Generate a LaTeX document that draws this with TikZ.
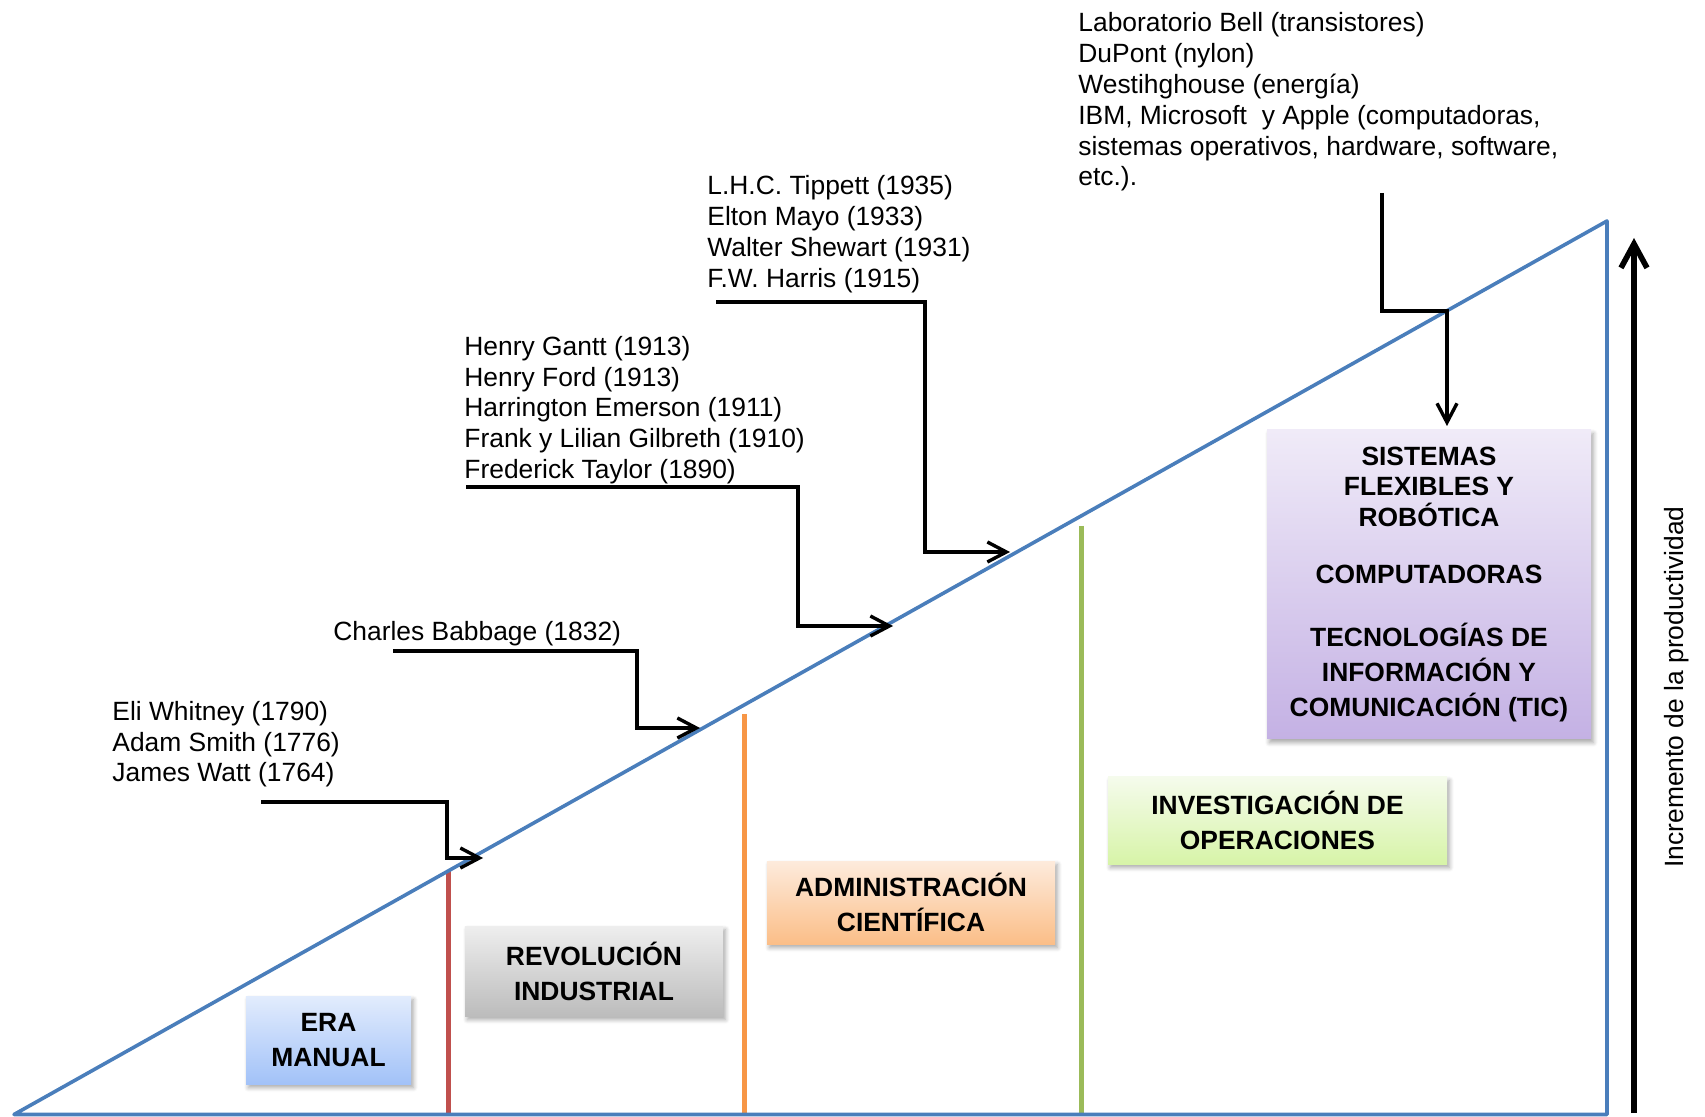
\documentclass[tikz,border=0pt]{standalone}
\usepackage{fontspec}
\setmainfont{Liberation Sans}
\usetikzlibrary{arrows.meta,shadows.blur}

\definecolor{axisblue}{HTML}{4A7EBB}
\definecolor{divred}{HTML}{C0504D}
\definecolor{divorange}{HTML}{F79646}
\definecolor{divgreen}{HTML}{9BBB59}
\definecolor{eraT}{HTML}{E2ECFD}
\definecolor{eraB}{HTML}{A2C2F8}
\definecolor{revT}{HTML}{EEEEEE}
\definecolor{revB}{HTML}{BCBCBC}
\definecolor{admT}{HTML}{FDEBDC}
\definecolor{admB}{HTML}{FBBE88}
\definecolor{invT}{HTML}{F5FBEC}
\definecolor{invB}{HTML}{D7F4A8}
\definecolor{sisT}{HTML}{F0EBF8}
\definecolor{sisB}{HTML}{C4B1E4}

\begin{document}
\begin{tikzpicture}[x=0.5pt,y=-0.5pt,
  every node/.style={inner sep=0pt},
  names/.style={font=\fontsize{13.2}{15.4}\selectfont, align=left, anchor=north west},
  stage/.style={rectangle, align=center,
    font=\fontsize{13.2}{17.5}\selectfont\bfseries,
    blur shadow={shadow xshift=1.2pt, shadow yshift=-1.8pt,
      shadow blur radius=2.2pt, shadow opacity=35, shadow blur steps=6}},
  tightstage/.style={stage, font=\fontsize{13.2}{15.25}\selectfont\bfseries},
  conn/.style={line width=1.7pt, line join=miter,
    -{Straight Barb[length=9.5pt,width=10pt]}},
  stem/.style={line width=2.5pt},
  axis/.style={draw=axisblue, line width=1.8pt, line join=round},
]
\useasboundingbox (0,0) rectangle (1705,1117);

% stage dividers
\draw[stem, draw=divred]    (448,871) -- (448,1114);
\draw[stem, draw=divorange] (744,714) -- (744,1114);
\draw[stem, draw=divgreen]  (1081,526) -- (1081,1114);

% productivity triangle
\coordinate (o)    at (14,1114.5);
\coordinate (apex) at (1607,221);
\coordinate (base) at (1607,1114.5);
\draw[axis] (o) -- (apex) -- (base) -- cycle;

% stage boxes
\node[stage, minimum width=82.5pt, minimum height=44pt,
  top color=eraT, bottom color=eraB] (era) at (328.5,1040) {ERA\\MANUAL};
\node[stage, minimum width=129pt, minimum height=45pt,
  top color=revT, bottom color=revB] (rev) at (594,971) {REVOLUCIÓN\\INDUSTRIAL};
\node[stage, minimum width=144pt, minimum height=41.5pt,
  top color=admT, bottom color=admB] (adm) at (911,902.5) {ADMINISTRACIÓN\\CIENTÍFICA};
\node[stage, minimum width=169.5pt, minimum height=43.5pt,
  top color=invT, bottom color=invB] (inv) at (1277.5,820.5) {INVESTIGACIÓN DE\\OPERACIONES};
\node[tightstage, minimum width=162pt, minimum height=154.5pt,
  top color=sisT, bottom color=sisB] (sis) at (1429,584.5)
  {SISTEMAS\\FLEXIBLES Y\\ROBÓTICA\\[13.25pt]COMPUTADORAS\\[16.25pt]TECNOLOGÍAS DE\\[2.25pt]INFORMACIÓN Y\\[2.25pt]COMUNICACIÓN (TIC)};

% contributors
\node[names] (g1) at (112,698.4) {\strut Eli Whitney (1790)\\Adam Smith (1776)\\James Watt (1764)};
\node[names] (g2) at (333,619) {\strut Charles Babbage (1832)};
\node[names] (g3) at (464,333.4) {\strut Henry Gantt (1913)\\Henry Ford (1913)\\Harrington Emerson (1911)\\Frank y Lilian Gilbreth (1910)\\Frederick Taylor (1890)};
\node[names] (g4) at (707,173) {\strut L.H.C. Tippett (1935)\\Elton Mayo (1933)\\Walter Shewart (1931)\\F.W. Harris (1915)};
\node[names] (g5) at (1078,10) {\strut Laboratorio Bell (transistores)\\DuPont (nylon)\\Westihghouse (energía)\\IBM, Microsoft\ \ y Apple (computadoras,\\sistemas operativos, hardware, software,\\etc.).};

% connectors from each group to the line
\coordinate (c1s) at (261,802);  \coordinate (c1k) at (447,858);  \coordinate (c1t) at (483,858);
\coordinate (c2s) at (393,651);  \coordinate (c2k) at (637,728);  \coordinate (c2t) at (700,728);
\coordinate (c3s) at (466,487);  \coordinate (c3k) at (798,626);  \coordinate (c3t) at (893,626);
\coordinate (c4s) at (716,302);  \coordinate (c4k) at (925,552);  \coordinate (c4t) at (1010,552);
\coordinate (c5s) at (1382,193); \coordinate (c5k) at (1447,311); \coordinate (c5t) at (1447,426);
\draw[conn] (c1s) -| (c1k) -- (c1t);
\draw[conn] (c2s) -| (c2k) -- (c2t);
\draw[conn] (c3s) -| (c3k) -- (c3t);
\draw[conn] (c4s) -| (c4k) -- (c4t);
\draw[conn] (c5s) |- (c5k) -- (c5t);

% productivity axis
\coordinate (up0) at (1634,1113);
\coordinate (up1) at (1634,238);
\draw[line width=2.8pt, -{Straight Barb[length=12pt,width=13pt]}] (up0) -- (up1);
\node[rotate=90, font=\fontsize{13.2}{15.4}\selectfont] (prod) at (1677,687) {Incremento de la productividad};
\end{tikzpicture}
\end{document}
